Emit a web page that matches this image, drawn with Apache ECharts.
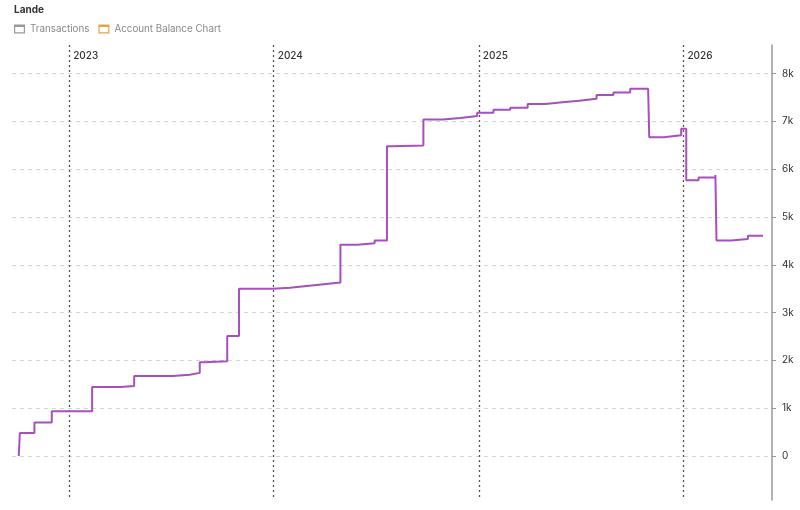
<!DOCTYPE html>
<html>
<head>
<meta charset="utf-8">
<script src="https://cdn.jsdelivr.net/npm/echarts@6/dist/echarts.min.js"></script>
<style>
html,body{margin:0;padding:0;background:#fff;}
#chart{width:800px;height:510px;}
</style>
</head>
<body>
<div id="chart"></div>
<script>
const titleText = 'Lande';
const legendNames = ['Transactions', 'Account Balance Chart'];
const yearTicks = ['2023-01-01', '2024-01-01', '2025-01-01', '2026-01-01'];
const yTickValues = [0, 1000, 2000, 3000, 4000, 5000, 6000, 7000, 8000];
const balanceDates = [
  '2022-10-03','2022-10-05','2022-10-31','2022-12-01','2023-02-11','2023-04-03','2023-04-27',
  '2023-07-05','2023-08-04','2023-08-22','2023-08-31','2023-10-10','2023-10-31','2023-12-30',
  '2024-01-30','2024-02-29','2024-03-30','2024-04-29','2024-05-29','2024-06-29','2024-07-21',
  '2024-07-31','2024-09-24','2024-10-29','2024-11-29','2024-12-29','2025-01-27','2025-02-26',
  '2025-03-29','2025-04-30','2025-05-30','2025-06-29','2025-07-30','2025-08-29','2025-09-28',
  '2025-10-30','2025-11-01','2025-11-27','2025-12-28','2026-01-06','2026-01-28','2026-02-27',
  '2026-03-01','2026-03-27','2026-04-26','2026-05-23'
];
const balanceValues = [
  0, 480, 700, 935, 1445, 1466, 1675,
  1700, 1740, 1960, 1985, 2510, 3500, 3520,
  3560, 3595, 3630, 4420, 4450, 4510, 6480,
  6495, 7040, 7075, 7115, 7180, 7246, 7288,
  7365, 7400, 7435, 7476, 7554, 7608, 7686,
  7710, 6670, 6710, 6850, 5770, 5830, 5880,
  4510, 4540, 4610, 4610
];
const xMin = '2022-09-21';
const xMax = '2026-06-08';
const yMin = -920;
const yMax = 8600;

const ts = d => Date.UTC(+d.slice(0, 4), +d.slice(5, 7) - 1, +d.slice(8, 10));
const chart = echarts.init(document.getElementById('chart'), null, {renderer: 'canvas'});
const iconPath = 'path://M0,0H11V9H0Z M1.2,2.6V7.8H9.8V2.6Z';
const balanceData = balanceDates.map((d, i) => [ts(d), balanceValues[i]]);
const yearTs = yearTicks.map(ts);
const FONT = 'Inter, "Noto Sans", sans-serif';

chart.setOption({
  animation: false,
  backgroundColor: '#fff',
  textStyle: {fontFamily: FONT},
  title: {
    text: titleText, left: 9, top: 0,
    textStyle: {fontSize: 10, fontWeight: 'bold', color: '#333', fontFamily: FONT}
  },
  legend: {
    left: 9, top: 19, itemWidth: 11, itemHeight: 9, itemGap: 9, icon: iconPath,
    textStyle: {fontSize: 9.8, color: '#8a8a8a', fontFamily: FONT},
    data: [
      {name: legendNames[0], itemStyle: {color: '#9a9a9a'}},
      {name: legendNames[1], itemStyle: {color: '#e3a14a'}}
    ]
  },
  grid: {left: 12, right: 28, top: 45, bottom: 10, containLabel: false},
  xAxis: {
    type: 'value', position: 'top', min: ts(xMin), max: ts(xMax),
    axisLine: {show: false},
    axisTick: {show: false, customValues: yearTs},
    axisLabel: {
      inside: true, margin: 6, align: 'left', padding: [0, 0, 0, 4],
      fontSize: 10, color: '#333', fontWeight: 500,
      customValues: yearTs,
      formatter: v => String(new Date(v).getUTCFullYear())
    },
    splitLine: {show: true, lineStyle: {color: '#555', width: 1.3, type: [2, 3]}}
  },
  yAxis: {
    type: 'value', position: 'right', min: yMin, max: yMax,
    axisLine: {show: true, lineStyle: {color: '#999', width: 1.5}},
    axisTick: {show: true, length: 4, customValues: yTickValues, lineStyle: {color: '#999'}},
    axisLabel: {
      margin: 10, fontSize: 10, color: '#333', customValues: yTickValues,
      formatter: v => v === 0 ? '0' : (v / 1000) + 'k'
    },
    splitLine: {show: true, lineStyle: {color: '#d6d6d6', width: 1, type: [4, 4]}}
  },
  series: [
    {name: legendNames[0], type: 'bar', data: [], itemStyle: {color: '#9a9a9a'}},
    {name: legendNames[1], type: 'line', data: [], itemStyle: {color: '#e3a14a'}},
    {
      name: 'Balance', type: 'line', step: 'end', data: balanceData,
      showSymbol: false, symbol: 'none',
      lineStyle: {color: '#a84fbf', width: 2},
      itemStyle: {color: '#a84fbf'}
    }
  ]
});
</script>
</body>
</html>
